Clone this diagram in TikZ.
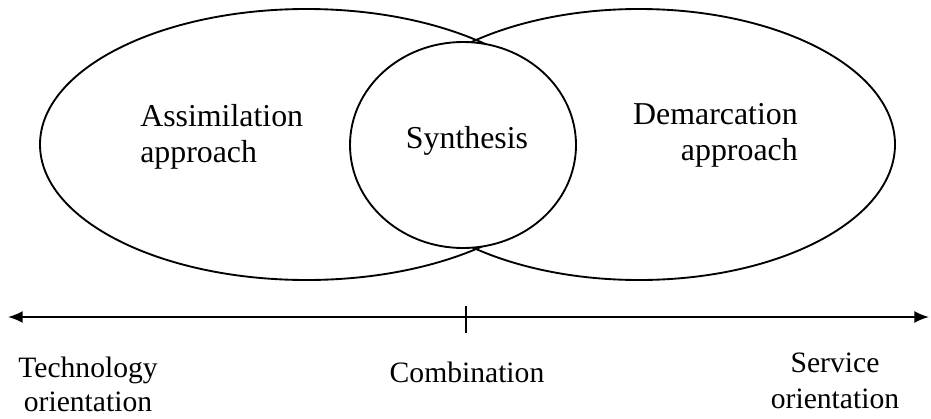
\documentclass[tikz,border=0pt]{standalone}
\usepackage{fontspec}
\setmainfont{Liberation Serif}
\usetikzlibrary{shapes.geometric, arrows.meta}

\tikzset{
  blob/.style={draw, ellipse, line width=1.4pt, inner sep=0pt},
  inlabel/.style={inner sep=0pt, font=\fontsize{23.9}{26.3}\selectfont},
  axislabel/.style={inner sep=0pt, align=center, font=\fontsize{22.2}{26.4}\selectfont}
}

\begin{document}
\begin{tikzpicture}[x=0.75pt, y=-0.75pt]
		\useasboundingbox (0, 0) rectangle (931, 418);
		\node[blob, minimum width=399.75pt, minimum height=203.25pt] (assim) at (306.5, 144.5) {};
		\node[blob, minimum width=384pt, minimum height=203.25pt] (demarc) at (639, 144.5) {};
		\node[blob, fill=white, minimum width=169.5pt, minimum height=154.5pt] (synth) at (463, 145) {};
		\node[inlabel, align=left, anchor=base west] at (140, 162) {Assimilation\\approach};
		\node[inlabel, align=right, anchor=base east] at (798, 160) {Demarcation\\approach};
		\node[inlabel, anchor=base] at (467, 148) {Synthesis};
		\coordinate (techend) at (8, 317);
		\coordinate (servend) at (929, 317);
		\coordinate (combtop) at (466, 306);
		\coordinate (combbot) at (466, 333);
		\draw[line width=1.4pt, {Latex[length=11pt, width=9pt]}-{Latex[length=11pt, width=9pt]}] (techend) -- (servend);
		\draw[line width=1.2pt] (combtop) -- (combbot);
		\node[axislabel, anchor=base, font=\fontsize{22.2}{25.5}\selectfont] at (88, 411) {Technology\\orientation};
		\node[axislabel, anchor=base] at (467, 382) {Combination};
		\node[axislabel, anchor=base] at (835, 408) {Service\\orientation};
	\end{tikzpicture}
\end{document}
